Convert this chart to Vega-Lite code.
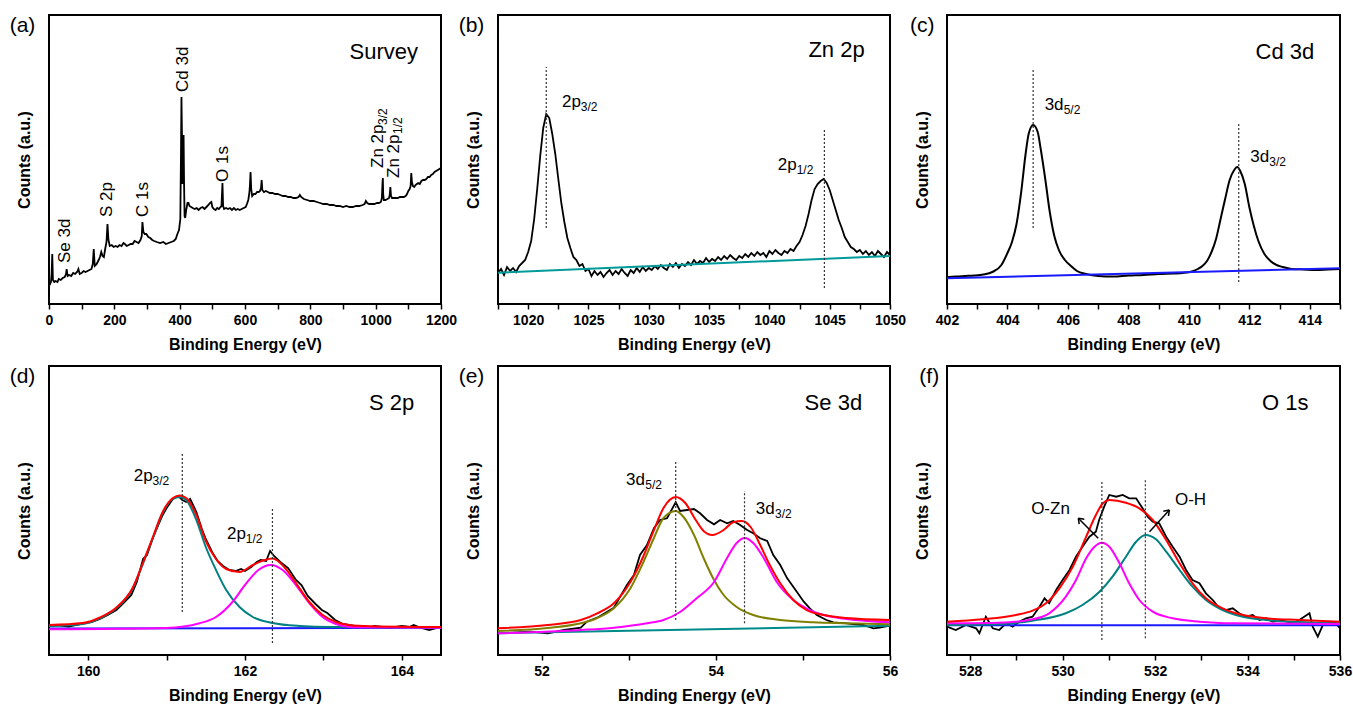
{
"$schema": "https://vega.github.io/schema/vega-lite/v6.json",
"padding": {"left": 8, "top": 14, "right": 5, "bottom": 0},
"bounds": "flush",
"columns": 3,
"spacing": {"row": 62, "column": 57},
"config": {
  "font": "Liberation Sans",
  "view": {"stroke": "black", "strokeWidth": 2},
  "axis": {"grid": false, "domain": false},
  "axisX": {"tickColor": "black", "tickSize": 5, "tickWidth": 1.5, "labelFontSize": 14, "labelFontWeight": "bold", "labelColor": "black", "labelPadding": 4, "titleFontSize": 16, "titleFontWeight": "bold", "titleColor": "black", "titlePadding": 9, "labelFlush": false, "labelOverlap": false},
  "axisY": {"ticks": false, "labels": false, "minExtent": 0, "titleFontSize": 16, "titleFontWeight": "bold", "titleColor": "black", "titlePadding": 17},
  "title": {"orient": "left", "anchor": "end", "angle": 0, "align": "left", "baseline": "top", "fontSize": 21, "fontWeight": "normal", "offset": -45, "frame": "group", "color": "black"},
  "text": {"color": "black"}
},
"datasets": {
  "a_c": [{"x":0,"y":18},{"x":3,"y":20},{"x":6,"y":22},{"x":8,"y":30},{"x":10,"y":50},{"x":12,"y":24},{"x":16,"y":22},{"x":20,"y":23},{"x":26,"y":22},{"x":30,"y":25},{"x":36,"y":24},{"x":42,"y":26},{"x":48,"y":27},{"x":52,"y":30},{"x":54,"y":35},{"x":57,"y":28},{"x":62,"y":29},{"x":68,"y":28},{"x":74,"y":31},{"x":80,"y":30},{"x":86,"y":32},{"x":90,"y":35},{"x":94,"y":30},{"x":100,"y":31},{"x":106,"y":33},{"x":112,"y":32},{"x":118,"y":33},{"x":124,"y":34},{"x":130,"y":35},{"x":134,"y":40},{"x":137,"y":55},{"x":140,"y":38},{"x":146,"y":40},{"x":152,"y":44},{"x":156,"y":47},{"x":160,"y":52},{"x":164,"y":48},{"x":168,"y":47},{"x":172,"y":55},{"x":176,"y":62},{"x":179,"y":80},{"x":182,"y":64},{"x":186,"y":58},{"x":192,"y":59},{"x":198,"y":57},{"x":204,"y":58},{"x":210,"y":57},{"x":216,"y":59},{"x":222,"y":58},{"x":228,"y":61},{"x":232,"y":60},{"x":238,"y":58},{"x":244,"y":59},{"x":250,"y":60},{"x":256,"y":60},{"x":262,"y":63},{"x":268,"y":62},{"x":274,"y":61},{"x":280,"y":64},{"x":284,"y":68},{"x":286,"y":82},{"x":289,"y":72},{"x":293,"y":70},{"x":298,"y":70},{"x":304,"y":67},{"x":310,"y":66},{"x":316,"y":64},{"x":322,"y":63},{"x":330,"y":62},{"x":340,"y":61},{"x":350,"y":62},{"x":358,"y":60},{"x":366,"y":61},{"x":374,"y":62},{"x":382,"y":63},{"x":388,"y":65},{"x":393,"y":70},{"x":398,"y":74},{"x":402,"y":85},{"x":404,"y":150},{"x":405.5,"y":207},{"x":407,"y":170},{"x":408.5,"y":120},{"x":410,"y":140},{"x":412,"y":169},{"x":413.5,"y":120},{"x":415,"y":88},{"x":417,"y":86},{"x":420,"y":94},{"x":424,"y":101},{"x":427,"y":101},{"x":430,"y":98},{"x":435,"y":97},{"x":440,"y":96},{"x":446,"y":95},{"x":452,"y":96},{"x":458,"y":94},{"x":464,"y":96},{"x":470,"y":97},{"x":476,"y":95},{"x":482,"y":97},{"x":488,"y":99},{"x":493,"y":101},{"x":497,"y":102},{"x":500,"y":97},{"x":505,"y":95},{"x":510,"y":94},{"x":515,"y":96},{"x":520,"y":95},{"x":525,"y":97},{"x":528,"y":98},{"x":531,"y":121},{"x":533,"y":98},{"x":536,"y":95},{"x":542,"y":96},{"x":548,"y":95},{"x":554,"y":96},{"x":560,"y":94},{"x":566,"y":96},{"x":572,"y":94},{"x":578,"y":95},{"x":584,"y":94},{"x":590,"y":95},{"x":596,"y":96},{"x":602,"y":97},{"x":606,"y":100},{"x":610,"y":104},{"x":613,"y":110},{"x":615,"y":118},{"x":617,"y":132},{"x":619,"y":115},{"x":622,"y":108},{"x":627,"y":110},{"x":632,"y":110},{"x":637,"y":112},{"x":642,"y":112},{"x":646,"y":113},{"x":649,"y":116},{"x":651,"y":124},{"x":653,"y":114},{"x":658,"y":112},{"x":664,"y":113},{"x":670,"y":112},{"x":676,"y":111},{"x":684,"y":111},{"x":692,"y":110},{"x":700,"y":110},{"x":708,"y":109},{"x":716,"y":108},{"x":724,"y":108},{"x":732,"y":107},{"x":740,"y":107},{"x":748,"y":106},{"x":756,"y":106},{"x":764,"y":107},{"x":768,"y":109},{"x":772,"y":107},{"x":780,"y":105},{"x":790,"y":104},{"x":800,"y":103},{"x":810,"y":103},{"x":820,"y":102},{"x":830,"y":101},{"x":840,"y":100},{"x":850,"y":100},{"x":860,"y":99},{"x":870,"y":99},{"x":880,"y":98},{"x":890,"y":98},{"x":900,"y":97},{"x":910,"y":98},{"x":920,"y":97},{"x":930,"y":97},{"x":940,"y":98},{"x":950,"y":98},{"x":960,"y":99},{"x":966,"y":100},{"x":970,"y":103},{"x":974,"y":101},{"x":980,"y":100},{"x":988,"y":100},{"x":996,"y":100},{"x":1004,"y":101},{"x":1010,"y":101},{"x":1016,"y":102},{"x":1019,"y":106},{"x":1021,"y":122},{"x":1022,"y":126},{"x":1023,"y":110},{"x":1025,"y":104},{"x":1030,"y":104},{"x":1036,"y":105},{"x":1041,"y":106},{"x":1043,"y":109},{"x":1045,"y":117},{"x":1047,"y":108},{"x":1050,"y":106},{"x":1056,"y":106},{"x":1062,"y":106},{"x":1068,"y":106},{"x":1074,"y":107},{"x":1080,"y":107},{"x":1086,"y":107},{"x":1092,"y":108},{"x":1096,"y":110},{"x":1100,"y":113},{"x":1104,"y":115},{"x":1107,"y":118},{"x":1109,"y":131},{"x":1111,"y":122},{"x":1114,"y":118},{"x":1118,"y":117},{"x":1122,"y":119},{"x":1126,"y":120},{"x":1130,"y":121},{"x":1135,"y":120},{"x":1140,"y":123},{"x":1145,"y":124},{"x":1150,"y":124},{"x":1155,"y":125},{"x":1160,"y":127},{"x":1165,"y":127},{"x":1170,"y":129},{"x":1175,"y":130},{"x":1180,"y":132},{"x":1185,"y":133},{"x":1190,"y":134},{"x":1195,"y":135},{"x":1200,"y":136}],
  "a_t": [{"x":49,"y":41,"t":"Se 3d","k":"m"},{"x":178.6,"y":87,"t":"S 2p","k":"m"},{"x":286.8,"y":87,"t":"C 1s","k":"m"},{"x":409,"y":212,"t":"Cd 3d","k":"m"},{"x":531.6,"y":122,"t":"O 1s","k":"m"},{"x":1008,"y":136,"t":"Zn 2p","k":"m"},{"x":1056,"y":126,"t":"Zn 2p","k":"m"},{"x":1023,"y":179,"t":"3/2","k":"s"},{"x":1069,"y":170,"t":"1/2","k":"s"},{"x":1129.6,"y":252,"t":"Survey","k":"T"}],
  "b_c": [{"s":"d","x":1017.5,"y":31},{"s":"d","x":1017.75,"y":35},{"s":"d","x":1018,"y":29},{"s":"d","x":1018.25,"y":37},{"s":"d","x":1018.5,"y":33},{"s":"d","x":1018.75,"y":36},{"s":"d","x":1019,"y":32},{"s":"d","x":1019.25,"y":38},{"s":"d","x":1019.5,"y":41},{"s":"d","x":1019.75,"y":44},{"s":"d","x":1020,"y":52},{"s":"d","x":1020.25,"y":63},{"s":"d","x":1020.5,"y":85},{"s":"d","x":1020.75,"y":115},{"s":"d","x":1021,"y":148},{"s":"d","x":1021.25,"y":176},{"s":"d","x":1021.5,"y":190},{"s":"d","x":1021.75,"y":186},{"s":"d","x":1022,"y":170},{"s":"d","x":1022.25,"y":150},{"s":"d","x":1022.5,"y":125},{"s":"d","x":1022.75,"y":101},{"s":"d","x":1023,"y":82},{"s":"d","x":1023.25,"y":66},{"s":"d","x":1023.5,"y":56},{"s":"d","x":1023.75,"y":47},{"s":"d","x":1024,"y":44},{"s":"d","x":1024.25,"y":38},{"s":"d","x":1024.5,"y":40},{"s":"d","x":1024.75,"y":33},{"s":"d","x":1025,"y":35},{"s":"d","x":1025.25,"y":28},{"s":"d","x":1025.5,"y":33},{"s":"d","x":1025.75,"y":29},{"s":"d","x":1026,"y":32},{"s":"d","x":1026.25,"y":27},{"s":"d","x":1026.5,"y":31},{"s":"d","x":1026.75,"y":34},{"s":"d","x":1027,"y":29},{"s":"d","x":1027.25,"y":33},{"s":"d","x":1027.5,"y":30},{"s":"d","x":1027.75,"y":35},{"s":"d","x":1028,"y":31},{"s":"d","x":1028.25,"y":28},{"s":"d","x":1028.5,"y":34},{"s":"d","x":1028.75,"y":31},{"s":"d","x":1029,"y":36},{"s":"d","x":1029.25,"y":32},{"s":"d","x":1029.5,"y":37},{"s":"d","x":1029.75,"y":33},{"s":"d","x":1030,"y":36},{"s":"d","x":1030.25,"y":34},{"s":"d","x":1030.5,"y":38},{"s":"d","x":1030.75,"y":35},{"s":"d","x":1031,"y":39},{"s":"d","x":1031.25,"y":36},{"s":"d","x":1031.5,"y":34},{"s":"d","x":1031.75,"y":40},{"s":"d","x":1032,"y":37},{"s":"d","x":1032.25,"y":41},{"s":"d","x":1032.5,"y":36},{"s":"d","x":1032.75,"y":40},{"s":"d","x":1033,"y":38},{"s":"d","x":1033.25,"y":42},{"s":"d","x":1033.5,"y":39},{"s":"d","x":1033.75,"y":44},{"s":"d","x":1034,"y":40},{"s":"d","x":1034.25,"y":43},{"s":"d","x":1034.5,"y":41},{"s":"d","x":1034.75,"y":46},{"s":"d","x":1035,"y":42},{"s":"d","x":1035.25,"y":45},{"s":"d","x":1035.5,"y":43},{"s":"d","x":1035.75,"y":47},{"s":"d","x":1036,"y":44},{"s":"d","x":1036.25,"y":48},{"s":"d","x":1036.5,"y":45},{"s":"d","x":1036.75,"y":49},{"s":"d","x":1037,"y":46},{"s":"d","x":1037.25,"y":44},{"s":"d","x":1037.5,"y":48},{"s":"d","x":1037.75,"y":46},{"s":"d","x":1038,"y":50},{"s":"d","x":1038.25,"y":47},{"s":"d","x":1038.5,"y":51},{"s":"d","x":1038.75,"y":48},{"s":"d","x":1039,"y":52},{"s":"d","x":1039.25,"y":49},{"s":"d","x":1039.5,"y":51},{"s":"d","x":1039.75,"y":47},{"s":"d","x":1040,"y":53},{"s":"d","x":1040.25,"y":50},{"s":"d","x":1040.5,"y":54},{"s":"d","x":1040.75,"y":51},{"s":"d","x":1041,"y":49},{"s":"d","x":1041.25,"y":53},{"s":"d","x":1041.5,"y":51},{"s":"d","x":1041.75,"y":55},{"s":"d","x":1042,"y":53},{"s":"d","x":1042.25,"y":58},{"s":"d","x":1042.5,"y":62},{"s":"d","x":1042.75,"y":69},{"s":"d","x":1043,"y":78},{"s":"d","x":1043.25,"y":90},{"s":"d","x":1043.5,"y":104},{"s":"d","x":1043.75,"y":115},{"s":"d","x":1044,"y":120},{"s":"d","x":1044.25,"y":123},{"s":"d","x":1044.5,"y":125},{"s":"d","x":1044.75,"y":121},{"s":"d","x":1045,"y":114},{"s":"d","x":1045.25,"y":104},{"s":"d","x":1045.5,"y":94},{"s":"d","x":1045.75,"y":84},{"s":"d","x":1046,"y":76},{"s":"d","x":1046.25,"y":67},{"s":"d","x":1046.5,"y":62},{"s":"d","x":1046.75,"y":57},{"s":"d","x":1047,"y":55},{"s":"d","x":1047.25,"y":52},{"s":"d","x":1047.5,"y":54},{"s":"d","x":1047.75,"y":50},{"s":"d","x":1048,"y":53},{"s":"d","x":1048.25,"y":49},{"s":"d","x":1048.5,"y":52},{"s":"d","x":1048.75,"y":48},{"s":"d","x":1049,"y":53},{"s":"d","x":1049.25,"y":50},{"s":"d","x":1049.5,"y":47},{"s":"d","x":1049.75,"y":52},{"s":"d","x":1050,"y":49},{"s":"b","x":1017.5,"y":31.3},{"s":"b","x":1050,"y":48}],
  "b_r": [{"x":1021.5,"y":76,"y2":237},{"x":1044.56,"y":16,"y2":176}],
  "b_t": [{"x":1022.8,"y":202,"t":"2p","k":"m"},{"x":1024.36,"y":197,"t":"3/2","k":"s"},{"x":1040.7,"y":139,"t":"2p","k":"m"},{"x":1042.26,"y":134,"t":"1/2","k":"s"},{"x":1047.9,"y":254,"t":"Zn 2p","k":"T"}],
  "c_c": [{"s":"d","x":402,"y":26.7},{"s":"d","x":402.3,"y":27.5},{"s":"d","x":402.6,"y":28},{"s":"d","x":402.9,"y":28.5},{"s":"d","x":403.2,"y":29.5},{"s":"d","x":403.5,"y":32},{"s":"d","x":403.8,"y":39},{"s":"d","x":404,"y":51},{"s":"d","x":404.15,"y":62},{"s":"d","x":404.3,"y":80},{"s":"d","x":404.45,"y":111},{"s":"d","x":404.6,"y":150},{"s":"d","x":404.7,"y":170},{"s":"d","x":404.85,"y":179},{"s":"d","x":405,"y":172},{"s":"d","x":405.1,"y":155},{"s":"d","x":405.25,"y":125},{"s":"d","x":405.4,"y":92},{"s":"d","x":405.55,"y":68},{"s":"d","x":405.7,"y":54},{"s":"d","x":405.9,"y":44},{"s":"d","x":406.1,"y":38},{"s":"d","x":406.3,"y":33},{"s":"d","x":406.6,"y":30},{"s":"d","x":407,"y":28},{"s":"d","x":407.5,"y":27.5},{"s":"d","x":408,"y":28.5},{"s":"d","x":408.5,"y":29},{"s":"d","x":409,"y":30},{"s":"d","x":409.5,"y":30.5},{"s":"d","x":409.8,"y":31},{"s":"d","x":410.1,"y":32.5},{"s":"d","x":410.3,"y":35},{"s":"d","x":410.45,"y":38},{"s":"d","x":410.6,"y":43},{"s":"d","x":410.75,"y":52},{"s":"d","x":410.9,"y":65},{"s":"d","x":411.05,"y":85},{"s":"d","x":411.2,"y":105},{"s":"d","x":411.35,"y":124},{"s":"d","x":411.5,"y":134},{"s":"d","x":411.6,"y":137},{"s":"d","x":411.7,"y":133},{"s":"d","x":411.85,"y":120},{"s":"d","x":412,"y":97},{"s":"d","x":412.15,"y":78},{"s":"d","x":412.3,"y":63},{"s":"d","x":412.5,"y":50},{"s":"d","x":412.7,"y":43},{"s":"d","x":412.9,"y":39},{"s":"d","x":413.1,"y":37},{"s":"d","x":413.4,"y":35},{"s":"d","x":413.8,"y":34.5},{"s":"d","x":414.2,"y":34},{"s":"d","x":414.6,"y":34.5},{"s":"d","x":415,"y":35},{"s":"b","x":402,"y":25.7},{"s":"b","x":415,"y":35.7}],
  "c_r": [{"x":404.85,"y":76,"y2":236},{"x":411.65,"y":22,"y2":182}],
  "c_t": [{"x":405.23,"y":199,"t":"3d","k":"m"},{"x":405.86,"y":194.5,"t":"5/2","k":"s"},{"x":412.03,"y":147,"t":"3d","k":"m"},{"x":412.66,"y":142.5,"t":"3/2","k":"s"},{"x":414.15,"y":252,"t":"Cd 3d","k":"T"}],
  "d_c": [{"s":"d","x":159.5,"y":29},{"s":"d","x":159.6,"y":30},{"s":"d","x":159.75,"y":28.5},{"s":"d","x":159.9,"y":31},{"s":"d","x":160.05,"y":33},{"s":"d","x":160.15,"y":36},{"s":"d","x":160.25,"y":40},{"s":"d","x":160.36,"y":45},{"s":"d","x":160.45,"y":52},{"s":"d","x":160.55,"y":60},{"s":"d","x":160.62,"y":73},{"s":"d","x":160.7,"y":96},{"s":"d","x":160.75,"y":100},{"s":"d","x":160.83,"y":118},{"s":"d","x":160.9,"y":131},{"s":"d","x":160.95,"y":140},{"s":"d","x":161,"y":147},{"s":"d","x":161.08,"y":156},{"s":"d","x":161.15,"y":159},{"s":"d","x":161.2,"y":155},{"s":"d","x":161.25,"y":153},{"s":"d","x":161.3,"y":156},{"s":"d","x":161.38,"y":143},{"s":"d","x":161.45,"y":126},{"s":"d","x":161.5,"y":116},{"s":"d","x":161.58,"y":103},{"s":"d","x":161.65,"y":94},{"s":"d","x":161.72,"y":89},{"s":"d","x":161.8,"y":85},{"s":"d","x":161.88,"y":84},{"s":"d","x":161.95,"y":86},{"s":"d","x":162,"y":84},{"s":"d","x":162.08,"y":88},{"s":"d","x":162.15,"y":93},{"s":"d","x":162.2,"y":95},{"s":"d","x":162.27,"y":94},{"s":"d","x":162.32,"y":104},{"s":"d","x":162.37,"y":99},{"s":"d","x":162.45,"y":93},{"s":"d","x":162.55,"y":87},{"s":"d","x":162.65,"y":75},{"s":"d","x":162.72,"y":70},{"s":"d","x":162.8,"y":59},{"s":"d","x":162.9,"y":51},{"s":"d","x":162.98,"y":45},{"s":"d","x":163.05,"y":42},{"s":"d","x":163.15,"y":35},{"s":"d","x":163.25,"y":31},{"s":"d","x":163.4,"y":29},{"s":"d","x":163.55,"y":27},{"s":"d","x":163.65,"y":29},{"s":"d","x":163.75,"y":28},{"s":"d","x":163.85,"y":27},{"s":"d","x":164,"y":29},{"s":"d","x":164.1,"y":28},{"s":"d","x":164.15,"y":30},{"s":"d","x":164.25,"y":27},{"s":"d","x":164.35,"y":25},{"s":"d","x":164.45,"y":27},{"s":"d","x":164.5,"y":28},
    {"s":"b","x":159.5,"y":26.5},{"s":"b","x":164.5,"y":27.2},
    {"s":"g","x":159.5,"y":29},{"s":"g","x":159.93,"y":31},{"s":"g","x":160.15,"y":36.7},{"s":"g","x":160.36,"y":46.7},{"s":"g","x":160.57,"y":66.7},{"s":"g","x":160.7,"y":91.7},{"s":"g","x":160.83,"y":118},{"s":"g","x":160.95,"y":142},{"s":"g","x":161.08,"y":156},{"s":"g","x":161.17,"y":158},{"s":"g","x":161.25,"y":155},{"s":"g","x":161.38,"y":135},{"s":"g","x":161.5,"y":108},{"s":"g","x":161.63,"y":85},{"s":"g","x":161.76,"y":65},{"s":"g","x":161.93,"y":48},{"s":"g","x":162.1,"y":38},{"s":"g","x":162.35,"y":32},{"s":"g","x":162.7,"y":29},{"s":"g","x":163.1,"y":28},{"s":"g","x":164.5,"y":27.7},
    {"s":"m","x":159.5,"y":25.7},{"s":"m","x":161,"y":27},{"s":"m","x":161.42,"y":31.7},{"s":"m","x":161.63,"y":38},{"s":"m","x":161.84,"y":53},{"s":"m","x":162,"y":70},{"s":"m","x":162.17,"y":85},{"s":"m","x":162.33,"y":90},{"s":"m","x":162.48,"y":85},{"s":"m","x":162.65,"y":70},{"s":"m","x":162.82,"y":52},{"s":"m","x":162.99,"y":38},{"s":"m","x":163.16,"y":31},{"s":"m","x":163.37,"y":27.7},{"s":"m","x":164.5,"y":27.3},
    {"s":"r","x":159.5,"y":30},{"s":"r","x":159.93,"y":32},{"s":"r","x":160.15,"y":37.5},{"s":"r","x":160.36,"y":47.5},{"s":"r","x":160.57,"y":67.5},{"s":"r","x":160.7,"y":92.5},{"s":"r","x":160.83,"y":119},{"s":"r","x":160.95,"y":143},{"s":"r","x":161.08,"y":157},{"s":"r","x":161.17,"y":159.5},{"s":"r","x":161.25,"y":157},{"s":"r","x":161.38,"y":140},{"s":"r","x":161.5,"y":114},{"s":"r","x":161.63,"y":96},{"s":"r","x":161.76,"y":86},{"s":"r","x":161.93,"y":83},{"s":"r","x":162.1,"y":90},{"s":"r","x":162.25,"y":95},{"s":"r","x":162.35,"y":96.5},{"s":"r","x":162.5,"y":88},{"s":"r","x":162.65,"y":72},{"s":"r","x":162.82,"y":53},{"s":"r","x":162.99,"y":40},{"s":"r","x":163.16,"y":33},{"s":"r","x":163.37,"y":29.5},{"s":"r","x":163.7,"y":28.5},{"s":"r","x":164.5,"y":28}],
  "d_r": [{"x":161.2,"y":43,"y2":203},{"x":162.35,"y":12,"y2":146}],
  "d_t": [{"x":160.58,"y":179,"t":"2p","k":"m"},{"x":160.82,"y":174.5,"t":"3/2","k":"s"},{"x":161.77,"y":121,"t":"2p","k":"m"},{"x":162.01,"y":116.5,"t":"1/2","k":"s"},{"x":164.16,"y":252,"t":"S 2p","k":"T"}],
  "e_c": [{"s":"d","x":51.5,"y":21.7},{"s":"d","x":51.87,"y":23.3},{"s":"d","x":52.07,"y":21.7},{"s":"d","x":52.26,"y":25},{"s":"d","x":52.45,"y":27.3},{"s":"d","x":52.52,"y":33.3},{"s":"d","x":52.64,"y":37.3},{"s":"d","x":52.83,"y":47.3},{"s":"d","x":52.98,"y":70},{"s":"d","x":53.06,"y":80},{"s":"d","x":53.13,"y":100},{"s":"d","x":53.21,"y":110},{"s":"d","x":53.29,"y":126.7},{"s":"d","x":53.36,"y":135},{"s":"d","x":53.44,"y":136.7},{"s":"d","x":53.54,"y":152.7},{"s":"d","x":53.59,"y":144},{"s":"d","x":53.67,"y":145},{"s":"d","x":53.75,"y":146},{"s":"d","x":53.82,"y":141.7},{"s":"d","x":53.9,"y":135},{"s":"d","x":53.98,"y":130.7},{"s":"d","x":54.05,"y":135},{"s":"d","x":54.13,"y":131.7},{"s":"d","x":54.2,"y":134},{"s":"d","x":54.28,"y":130},{"s":"d","x":54.36,"y":125},{"s":"d","x":54.43,"y":121.7},{"s":"d","x":54.51,"y":116.7},{"s":"d","x":54.59,"y":114},{"s":"d","x":54.66,"y":100},{"s":"d","x":54.74,"y":90},{"s":"d","x":54.82,"y":76.7},{"s":"d","x":54.93,"y":63.3},{"s":"d","x":55.01,"y":53.3},{"s":"d","x":55.08,"y":46.7},{"s":"d","x":55.16,"y":40},{"s":"d","x":55.27,"y":35},{"s":"d","x":55.35,"y":32.7},{"s":"d","x":55.5,"y":31.7},{"s":"d","x":55.69,"y":30},{"s":"d","x":55.81,"y":26.7},{"s":"d","x":55.88,"y":27.3},{"s":"d","x":56,"y":29.3},
    {"s":"b","x":51.5,"y":21.7},{"s":"b","x":56,"y":29.3},
    {"s":"o","x":51.5,"y":24},{"s":"o","x":52.07,"y":27},{"s":"o","x":52.45,"y":31.7},{"s":"o","x":52.64,"y":37},{"s":"o","x":52.83,"y":46.7},{"s":"o","x":53.02,"y":66.7},{"s":"o","x":53.17,"y":93},{"s":"o","x":53.29,"y":117},{"s":"o","x":53.4,"y":137},{"s":"o","x":53.54,"y":144},{"s":"o","x":53.63,"y":138},{"s":"o","x":53.75,"y":120},{"s":"o","x":53.86,"y":97},{"s":"o","x":53.98,"y":75},{"s":"o","x":54.09,"y":60},{"s":"o","x":54.24,"y":48},{"s":"o","x":54.43,"y":40},{"s":"o","x":54.74,"y":35},{"s":"o","x":55.12,"y":32.7},{"s":"o","x":55.5,"y":31.7},{"s":"o","x":56,"y":30.7},
    {"s":"m","x":51.5,"y":21.7},{"s":"m","x":52.45,"y":25},{"s":"m","x":52.83,"y":27.3},{"s":"m","x":53.21,"y":31.7},{"s":"m","x":53.4,"y":35},{"s":"m","x":53.59,"y":43},{"s":"m","x":53.78,"y":56.7},{"s":"m","x":53.98,"y":73},{"s":"m","x":54.13,"y":97},{"s":"m","x":54.24,"y":112},{"s":"m","x":54.33,"y":117},{"s":"m","x":54.43,"y":112},{"s":"m","x":54.55,"y":97},{"s":"m","x":54.7,"y":73},{"s":"m","x":54.89,"y":55},{"s":"m","x":55.04,"y":46.7},{"s":"m","x":55.24,"y":40},{"s":"m","x":55.5,"y":36},{"s":"m","x":56,"y":32.7},
    {"s":"r","x":51.5,"y":26.7},{"s":"r","x":52.07,"y":30},{"s":"r","x":52.45,"y":35},{"s":"r","x":52.64,"y":41.7},{"s":"r","x":52.83,"y":51.7},{"s":"r","x":53.02,"y":73},{"s":"r","x":53.17,"y":99},{"s":"r","x":53.29,"y":125},{"s":"r","x":53.4,"y":147},{"s":"r","x":53.54,"y":158},{"s":"r","x":53.65,"y":152},{"s":"r","x":53.77,"y":135},{"s":"r","x":53.86,"y":124},{"s":"r","x":53.96,"y":120},{"s":"r","x":54.09,"y":125},{"s":"r","x":54.2,"y":132.7},{"s":"r","x":54.3,"y":134},{"s":"r","x":54.4,"y":128},{"s":"r","x":54.51,"y":110},{"s":"r","x":54.62,"y":90},{"s":"r","x":54.74,"y":71.7},{"s":"r","x":54.89,"y":55},{"s":"r","x":55.04,"y":45},{"s":"r","x":55.24,"y":40},{"s":"r","x":55.5,"y":37},{"s":"r","x":56,"y":35}],
  "e_r": [{"x":53.54,"y":35,"y2":195},{"x":54.33,"y":31.7,"y2":164}],
  "e_t": [{"x":52.97,"y":175,"t":"3d","k":"m"},{"x":53.19,"y":170.5,"t":"5/2","k":"s"},{"x":54.46,"y":146,"t":"3d","k":"m"},{"x":54.68,"y":141.5,"t":"3/2","k":"s"},{"x":55.68,"y":252,"t":"Se 3d","k":"T"}],
  "f_c": [{"s":"d","x":527.5,"y":28.3},{"s":"d","x":527.69,"y":25},{"s":"d","x":527.91,"y":30},{"s":"d","x":528.13,"y":26.7},{"s":"d","x":528.2,"y":21.7},{"s":"d","x":528.34,"y":38.3},{"s":"d","x":528.49,"y":26.7},{"s":"d","x":528.63,"y":25},{"s":"d","x":528.78,"y":31.7},{"s":"d","x":528.92,"y":28.3},{"s":"d","x":529.06,"y":33.3},{"s":"d","x":529.21,"y":36.7},{"s":"d","x":529.35,"y":38.3},{"s":"d","x":529.5,"y":48.3},{"s":"d","x":529.61,"y":56.7},{"s":"d","x":529.71,"y":51.7},{"s":"d","x":529.86,"y":65},{"s":"d","x":530,"y":75},{"s":"d","x":530.15,"y":85},{"s":"d","x":530.29,"y":98.3},{"s":"d","x":530.43,"y":108.3},{"s":"d","x":530.58,"y":118.3},{"s":"d","x":530.72,"y":123.3},{"s":"d","x":530.79,"y":135},{"s":"d","x":530.9,"y":148.3},{"s":"d","x":531.01,"y":160},{"s":"d","x":531.16,"y":158.3},{"s":"d","x":531.3,"y":160},{"s":"d","x":531.44,"y":156.7},{"s":"d","x":531.59,"y":156.7},{"s":"d","x":531.73,"y":146.7},{"s":"d","x":531.84,"y":138.3},{"s":"d","x":531.95,"y":133.3},{"s":"d","x":532.09,"y":131.7},{"s":"d","x":532.24,"y":118.3},{"s":"d","x":532.38,"y":108.3},{"s":"d","x":532.53,"y":98.3},{"s":"d","x":532.67,"y":85},{"s":"d","x":532.81,"y":75},{"s":"d","x":532.96,"y":71.7},{"s":"d","x":533.1,"y":61.7},{"s":"d","x":533.25,"y":55},{"s":"d","x":533.39,"y":46.7},{"s":"d","x":533.53,"y":45},{"s":"d","x":533.68,"y":46.7},{"s":"d","x":533.82,"y":41.7},{"s":"d","x":533.97,"y":38.3},{"s":"d","x":534.11,"y":40},{"s":"d","x":534.26,"y":35},{"s":"d","x":534.4,"y":36.7},{"s":"d","x":534.54,"y":33.3},{"s":"d","x":534.76,"y":34.3},{"s":"d","x":534.98,"y":31.7},{"s":"d","x":535.12,"y":35},{"s":"d","x":535.34,"y":41.7},{"s":"d","x":535.41,"y":28.3},{"s":"d","x":535.52,"y":18.3},{"s":"d","x":535.63,"y":30},{"s":"d","x":535.77,"y":33.3},{"s":"d","x":535.91,"y":31.7},{"s":"d","x":536,"y":26.7},
    {"s":"b","x":527.5,"y":29.7},{"s":"b","x":536,"y":29.7},
    {"s":"g","x":527.5,"y":30},{"s":"g","x":528.63,"y":31},{"s":"g","x":529.35,"y":34.3},{"s":"g","x":530.07,"y":41.7},{"s":"g","x":530.43,"y":50},{"s":"g","x":530.8,"y":63.3},{"s":"g","x":531.08,"y":78.3},{"s":"g","x":531.37,"y":98.3},{"s":"g","x":531.59,"y":113.3},{"s":"g","x":531.79,"y":120},{"s":"g","x":532.02,"y":115.7},{"s":"g","x":532.24,"y":103.3},{"s":"g","x":532.53,"y":85},{"s":"g","x":532.81,"y":68.3},{"s":"g","x":533.1,"y":55},{"s":"g","x":533.46,"y":45},{"s":"g","x":533.9,"y":38.3},{"s":"g","x":534.4,"y":35},{"s":"g","x":535.12,"y":33},{"s":"g","x":536,"y":31.7},
    {"s":"m","x":527.5,"y":31.7},{"s":"m","x":528.63,"y":32.3},{"s":"m","x":529.35,"y":35.7},{"s":"m","x":529.71,"y":41.7},{"s":"m","x":530.07,"y":58.3},{"s":"m","x":530.29,"y":75},{"s":"m","x":530.51,"y":96.7},{"s":"m","x":530.69,"y":108.3},{"s":"m","x":530.85,"y":112.3},{"s":"m","x":531.01,"y":108.3},{"s":"m","x":531.23,"y":91.7},{"s":"m","x":531.44,"y":71.7},{"s":"m","x":531.66,"y":55},{"s":"m","x":531.95,"y":43.3},{"s":"m","x":532.38,"y":36.7},{"s":"m","x":532.96,"y":33.3},{"s":"m","x":533.68,"y":31.7},{"s":"m","x":536,"y":31},
    {"s":"r","x":527.5,"y":33.3},{"s":"r","x":528.27,"y":35.7},{"s":"r","x":528.99,"y":40},{"s":"r","x":529.35,"y":44.3},{"s":"r","x":529.64,"y":51.7},{"s":"r","x":529.93,"y":66.7},{"s":"r","x":530.22,"y":88.3},{"s":"r","x":530.51,"y":118.3},{"s":"r","x":530.72,"y":140},{"s":"r","x":530.87,"y":151.7},{"s":"r","x":531.01,"y":155},{"s":"r","x":531.37,"y":152.3},{"s":"r","x":531.66,"y":146.7},{"s":"r","x":531.95,"y":135},{"s":"r","x":532.24,"y":115},{"s":"r","x":532.53,"y":91.7},{"s":"r","x":532.81,"y":71.7},{"s":"r","x":533.1,"y":56.7},{"s":"r","x":533.46,"y":46.7},{"s":"r","x":533.9,"y":40},{"s":"r","x":534.4,"y":36.7},{"s":"r","x":535.12,"y":35},{"s":"r","x":536,"y":33.3}],
  "f_r": [{"x":530.85,"y":15,"y2":175},{"x":531.79,"y":16.7,"y2":176.7}],
  "f_a": [{"x":530.77,"y":116.7,"x2":530.34,"y2":136.7},{"x":530.34,"y":136.7,"x2":530.36,"y2":130.8},{"x":530.34,"y":136.7,"x2":530.47,"y2":135.7},{"x":531.88,"y":123.3,"x2":532.31,"y2":145},{"x":532.31,"y":145,"x2":532.18,"y2":143.7},{"x":532.31,"y":145,"x2":532.29,"y2":139}],
  "f_t": [{"x":529.32,"y":146,"t":"O-Zn","k":"m"},{"x":532.43,"y":155,"t":"O-H","k":"m"},{"x":535.32,"y":252,"t":"O 1s","k":"T"}]
},
"concat": [
  {"width": 392, "height": 289, "title": {"text": "(a)"},
   "encoding": {
     "x": {"field": "x", "type": "quantitative", "scale": {"domain": [0, 1200], "nice": false, "zero": false}, "axis": {"title": "Binding Energy (eV)", "format": "d", "values": [0,100,200,300,400,500,600,700,800,900,1000,1100,1200], "labelExpr": "datum.value % 200 === 0 ? datum.label : ''"}},
     "y": {"field": "y", "type": "quantitative", "scale": {"domain": [0, 289], "nice": false, "zero": false}, "axis": {"title": "Counts (a.u.)"}}
   },
   "layer": [
     {"data": {"name": "a_c"}, "mark": {"type": "line", "color": "black", "strokeWidth": 1.8}},
     {"data": {"name": "a_t"}, "transform": [{"filter": "datum.k === 'm'"}], "mark": {"type": "text", "angle": -90, "align": "left", "baseline": "middle", "fontSize": 17}, "encoding": {"text": {"field": "t"}}},
     {"data": {"name": "a_t"}, "transform": [{"filter": "datum.k === 's'"}], "mark": {"type": "text", "angle": -90, "align": "left", "baseline": "middle", "fontSize": 12}, "encoding": {"text": {"field": "t"}}},
     {"data": {"name": "a_t"}, "transform": [{"filter": "datum.k === 'T'"}], "mark": {"type": "text", "align": "right", "baseline": "middle", "fontSize": 22}, "encoding": {"text": {"field": "t"}}}
   ]
  },
  {"width": 392, "height": 289, "title": {"text": "(b)"},
   "encoding": {
     "x": {"field": "x", "type": "quantitative", "scale": {"domain": [1017.5, 1050], "nice": false, "zero": false}, "axis": {"title": "Binding Energy (eV)", "format": "d", "values": [1017.5,1020,1022.5,1025,1027.5,1030,1032.5,1035,1037.5,1040,1042.5,1045,1047.5,1050], "labelExpr": "datum.value % 5 === 0 ? datum.label : ''"}},
     "y": {"field": "y", "type": "quantitative", "scale": {"domain": [0, 289], "nice": false, "zero": false}, "axis": {"title": "Counts (a.u.)"}}
   },
   "layer": [
     {"data": {"name": "b_c"}, "transform": [{"filter": "datum.s === 'd'"}], "mark": {"type": "line", "color": "black", "strokeWidth": 1.8}},
     {"data": {"name": "b_c"}, "transform": [{"filter": "datum.s === 'b'"}], "mark": {"type": "line", "color": "#009a9a", "strokeWidth": 2}},
     {"data": {"name": "b_r"}, "mark": {"type": "rule", "color": "#333333", "strokeWidth": 1.2, "strokeDash": [2, 2]}, "encoding": {"y2": {"field": "y2"}}},
     {"data": {"name": "b_t"}, "transform": [{"filter": "datum.k === 'm'"}], "mark": {"type": "text", "align": "left", "baseline": "middle", "fontSize": 17}, "encoding": {"text": {"field": "t"}}},
     {"data": {"name": "b_t"}, "transform": [{"filter": "datum.k === 's'"}], "mark": {"type": "text", "align": "left", "baseline": "middle", "fontSize": 12}, "encoding": {"text": {"field": "t"}}},
     {"data": {"name": "b_t"}, "transform": [{"filter": "datum.k === 'T'"}], "mark": {"type": "text", "align": "right", "baseline": "middle", "fontSize": 22}, "encoding": {"text": {"field": "t"}}}
   ]
  },
  {"width": 393, "height": 289, "title": {"text": "(c)"},
   "encoding": {
     "x": {"field": "x", "type": "quantitative", "scale": {"domain": [402, 415], "nice": false, "zero": false}, "axis": {"title": "Binding Energy (eV)", "format": "d", "values": [402,403,404,405,406,407,408,409,410,411,412,413,414,415], "labelExpr": "datum.value % 2 === 0 ? datum.label : ''"}},
     "y": {"field": "y", "type": "quantitative", "scale": {"domain": [0, 289], "nice": false, "zero": false}, "axis": {"title": "Counts (a.u.)"}}
   },
   "layer": [
     {"data": {"name": "c_c"}, "transform": [{"filter": "datum.s === 'd'"}], "mark": {"type": "line", "color": "black", "strokeWidth": 2, "interpolate": "monotone"}},
     {"data": {"name": "c_c"}, "transform": [{"filter": "datum.s === 'b'"}], "mark": {"type": "line", "color": "#1a1aff", "strokeWidth": 2}},
     {"data": {"name": "c_r"}, "mark": {"type": "rule", "color": "#333333", "strokeWidth": 1.2, "strokeDash": [2, 2]}, "encoding": {"y2": {"field": "y2"}}},
     {"data": {"name": "c_t"}, "transform": [{"filter": "datum.k === 'm'"}], "mark": {"type": "text", "align": "left", "baseline": "middle", "fontSize": 17}, "encoding": {"text": {"field": "t"}}},
     {"data": {"name": "c_t"}, "transform": [{"filter": "datum.k === 's'"}], "mark": {"type": "text", "align": "left", "baseline": "middle", "fontSize": 12}, "encoding": {"text": {"field": "t"}}},
     {"data": {"name": "c_t"}, "transform": [{"filter": "datum.k === 'T'"}], "mark": {"type": "text", "align": "right", "baseline": "middle", "fontSize": 22}, "encoding": {"text": {"field": "t"}}}
   ]
  },
  {"width": 392, "height": 289, "title": {"text": "(d)"},
   "encoding": {
     "x": {"field": "x", "type": "quantitative", "scale": {"domain": [159.5, 164.5], "nice": false, "zero": false}, "axis": {"title": "Binding Energy (eV)", "format": "d", "values": [160,161,162,163,164], "labelExpr": "datum.value % 2 === 0 ? datum.label : ''"}},
     "y": {"field": "y", "type": "quantitative", "scale": {"domain": [0, 289], "nice": false, "zero": false}, "axis": {"title": "Counts (a.u.)"}}
   },
   "layer": [
     {"data": {"name": "d_c"}, "transform": [{"filter": "datum.s === 'd'"}], "mark": {"type": "line", "color": "black", "strokeWidth": 1.8}},
     {"data": {"name": "d_c"}, "transform": [{"filter": "datum.s === 'b'"}], "mark": {"type": "line", "color": "#1a1aff", "strokeWidth": 2}},
     {"data": {"name": "d_c"}, "transform": [{"filter": "datum.s === 'g'"}], "mark": {"type": "line", "color": "#008080", "strokeWidth": 2, "interpolate": "monotone"}},
     {"data": {"name": "d_c"}, "transform": [{"filter": "datum.s === 'm'"}], "mark": {"type": "line", "color": "#ff00ff", "strokeWidth": 2, "interpolate": "monotone"}},
     {"data": {"name": "d_c"}, "transform": [{"filter": "datum.s === 'r'"}], "mark": {"type": "line", "color": "#ff0000", "strokeWidth": 2, "interpolate": "monotone"}},
     {"data": {"name": "d_r"}, "mark": {"type": "rule", "color": "#333333", "strokeWidth": 1.2, "strokeDash": [2, 2]}, "encoding": {"y2": {"field": "y2"}}},
     {"data": {"name": "d_t"}, "transform": [{"filter": "datum.k === 'm'"}], "mark": {"type": "text", "align": "left", "baseline": "middle", "fontSize": 17}, "encoding": {"text": {"field": "t"}}},
     {"data": {"name": "d_t"}, "transform": [{"filter": "datum.k === 's'"}], "mark": {"type": "text", "align": "left", "baseline": "middle", "fontSize": 12}, "encoding": {"text": {"field": "t"}}},
     {"data": {"name": "d_t"}, "transform": [{"filter": "datum.k === 'T'"}], "mark": {"type": "text", "align": "right", "baseline": "middle", "fontSize": 22}, "encoding": {"text": {"field": "t"}}}
   ]
  },
  {"width": 392, "height": 289, "title": {"text": "(e)"},
   "encoding": {
     "x": {"field": "x", "type": "quantitative", "scale": {"domain": [51.5, 56], "nice": false, "zero": false}, "axis": {"title": "Binding Energy (eV)", "format": "d", "values": [52,53,54,55,56], "labelExpr": "datum.value % 2 === 0 ? datum.label : ''"}},
     "y": {"field": "y", "type": "quantitative", "scale": {"domain": [0, 289], "nice": false, "zero": false}, "axis": {"title": "Counts (a.u.)"}}
   },
   "layer": [
     {"data": {"name": "e_c"}, "transform": [{"filter": "datum.s === 'd'"}], "mark": {"type": "line", "color": "black", "strokeWidth": 1.8}},
     {"data": {"name": "e_c"}, "transform": [{"filter": "datum.s === 'b'"}], "mark": {"type": "line", "color": "#008b8b", "strokeWidth": 2}},
     {"data": {"name": "e_c"}, "transform": [{"filter": "datum.s === 'o'"}], "mark": {"type": "line", "color": "#808000", "strokeWidth": 2, "interpolate": "monotone"}},
     {"data": {"name": "e_c"}, "transform": [{"filter": "datum.s === 'm'"}], "mark": {"type": "line", "color": "#ff00ff", "strokeWidth": 2, "interpolate": "monotone"}},
     {"data": {"name": "e_c"}, "transform": [{"filter": "datum.s === 'r'"}], "mark": {"type": "line", "color": "#ff0000", "strokeWidth": 2, "interpolate": "monotone"}},
     {"data": {"name": "e_r"}, "mark": {"type": "rule", "color": "#333333", "strokeWidth": 1.2, "strokeDash": [2, 2]}, "encoding": {"y2": {"field": "y2"}}},
     {"data": {"name": "e_t"}, "transform": [{"filter": "datum.k === 'm'"}], "mark": {"type": "text", "align": "left", "baseline": "middle", "fontSize": 17}, "encoding": {"text": {"field": "t"}}},
     {"data": {"name": "e_t"}, "transform": [{"filter": "datum.k === 's'"}], "mark": {"type": "text", "align": "left", "baseline": "middle", "fontSize": 12}, "encoding": {"text": {"field": "t"}}},
     {"data": {"name": "e_t"}, "transform": [{"filter": "datum.k === 'T'"}], "mark": {"type": "text", "align": "right", "baseline": "middle", "fontSize": 22}, "encoding": {"text": {"field": "t"}}}
   ]
  },
  {"width": 393, "height": 289, "title": {"text": "(f)"},
   "encoding": {
     "x": {"field": "x", "type": "quantitative", "scale": {"domain": [527.5, 536], "nice": false, "zero": false}, "axis": {"title": "Binding Energy (eV)", "format": "d", "values": [528,529,530,531,532,533,534,535,536], "labelExpr": "datum.value % 2 === 0 ? datum.label : ''"}},
     "y": {"field": "y", "type": "quantitative", "scale": {"domain": [0, 289], "nice": false, "zero": false}, "axis": {"title": "Counts (a.u.)"}}
   },
   "layer": [
     {"data": {"name": "f_c"}, "transform": [{"filter": "datum.s === 'd'"}], "mark": {"type": "line", "color": "black", "strokeWidth": 1.8}},
     {"data": {"name": "f_c"}, "transform": [{"filter": "datum.s === 'b'"}], "mark": {"type": "line", "color": "#1a1aff", "strokeWidth": 2}},
     {"data": {"name": "f_c"}, "transform": [{"filter": "datum.s === 'g'"}], "mark": {"type": "line", "color": "#008080", "strokeWidth": 2, "interpolate": "monotone"}},
     {"data": {"name": "f_c"}, "transform": [{"filter": "datum.s === 'm'"}], "mark": {"type": "line", "color": "#ff00ff", "strokeWidth": 2, "interpolate": "monotone"}},
     {"data": {"name": "f_c"}, "transform": [{"filter": "datum.s === 'r'"}], "mark": {"type": "line", "color": "#ff0000", "strokeWidth": 2, "interpolate": "monotone"}},
     {"data": {"name": "f_r"}, "mark": {"type": "rule", "color": "#333333", "strokeWidth": 1.2, "strokeDash": [2, 2]}, "encoding": {"y2": {"field": "y2"}}},
     {"data": {"name": "f_a"}, "mark": {"type": "rule", "color": "black", "strokeWidth": 1.5}, "encoding": {"x2": {"field": "x2"}, "y2": {"field": "y2"}}},
     {"data": {"name": "f_t"}, "transform": [{"filter": "datum.k === 'm'"}], "mark": {"type": "text", "align": "left", "baseline": "middle", "fontSize": 17}, "encoding": {"text": {"field": "t"}}},
     {"data": {"name": "f_t"}, "transform": [{"filter": "datum.k === 'T'"}], "mark": {"type": "text", "align": "right", "baseline": "middle", "fontSize": 22}, "encoding": {"text": {"field": "t"}}}
   ]
  }
]
}
